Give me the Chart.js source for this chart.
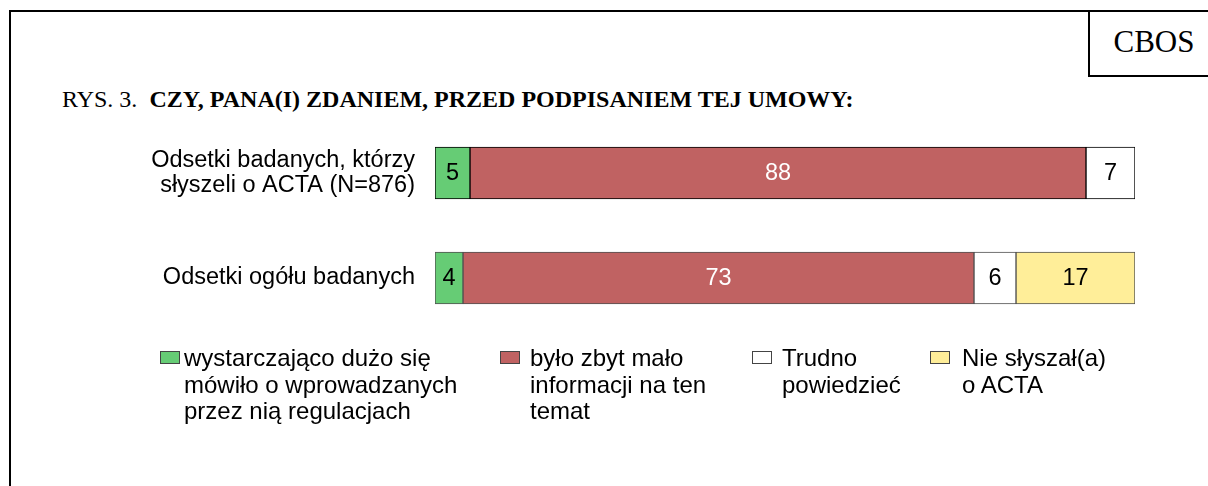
<!DOCTYPE html>
<html>
<head>
<meta charset="utf-8">
<script src="https://cdn.jsdelivr.net/npm/chart.js@4"></script>
<style>
  body { margin: 0; background: #fff; }
  #wrap { position: relative; width: 1208px; height: 486px; overflow: hidden; }
  #frame { position: absolute; left: 9px; top: 10px; width: 1300px; height: 600px; border: 2px solid #000; }
  #cbos { position: absolute; left: 1088px; top: 10px; width: 200px; height: 63px; border: 2px solid #000; }
  #cbosTxt { position: absolute; left: 1095px; width: 118px; top: 24px; text-align: center;
    font: 31px "Liberation Serif", "Times New Roman", serif; }
  #title { position: absolute; left: 62px; top: 86px; font: 24px "Liberation Serif", "Times New Roman", serif; white-space: nowrap; }
  #title b { margin-left: 6px; }
  canvas { position: absolute; left: 0; top: 0; }
  .leg { position: absolute; top: 345px; font: 24px "Liberation Sans", Arial, sans-serif; line-height: 26.5px; white-space: nowrap; }
  .sw { position: absolute; width: 18px; height: 11px; border: 1px solid #444; top: 351px; }
</style>
</head>
<body>
<div id="wrap">
  <div id="frame"></div>
  <div id="cbos"></div>
  <div id="cbosTxt">CBOS</div>
  <div id="title">RYS. 3. <b>CZY, PANA(I) ZDANIEM, PRZED PODPISANIEM TEJ UMOWY:</b></div>
  <canvas id="chart" width="1208" height="486"></canvas>
  <div id="legend"></div>
</div>
<script>
var categories = [
  ['Odsetki badanych, którzy', 'słyszeli o ACTA (N=876)'],
  'Odsetki ogółu badanych'
];
var seriesNames = [
  ['wystarczająco dużo się', 'mówiło o wprowadzanych', 'przez nią regulacjach'],
  ['było zbyt mało', 'informacji na ten', 'temat'],
  ['Trudno', 'powiedzieć'],
  ['Nie słyszał(a)', 'o ACTA']
];
var enoughInfo = [5, 4];
var tooLittle = [88, 73];
var hardToSay = [7, 6];
var notHeard = [0, 17];

var colors = ['#66cc75', '#c06262', '#ffffff', '#ffee99'];
var labelColors = ['#000', '#fff', '#000', '#000'];
var legendX = [160, 500, 752, 930];
var legendTextX = [184, 530, 782, 962];

var allData = [enoughInfo, tooLittle, hardToSay, notHeard];

var valueLabels = {
  id: 'valueLabels',
  afterDatasetsDraw: function(chart) {
    var ctx = chart.ctx;
    ctx.save();
    ctx.font = '23.5px "Liberation Sans", Arial, sans-serif';
    ctx.textAlign = 'center';
    ctx.textBaseline = 'middle';
    chart.data.datasets.forEach(function(ds, i) {
      chart.getDatasetMeta(i).data.forEach(function(bar, j) {
        var v = ds.data[j];
        if (!v) return;
        ctx.fillStyle = labelColors[i];
        ctx.fillText(String(v), (bar.x + bar.base) / 2, bar.y + 1);
      });
    });
    ctx.restore();
  }
};

var datasets = allData.map(function(d, i) {
  return {
    label: seriesNames[i].join(' '),
    data: d,
    backgroundColor: colors[i],
    borderColor: ['#000000', '#505050'],
    borderWidth: 1,
    borderSkipped: false,
    barThickness: 52
  };
});

var chart = new Chart(document.getElementById('chart'), {
  type: 'bar',
  data: { labels: categories, datasets: datasets },
  plugins: [valueLabels],
  options: {
    indexAxis: 'y',
    responsive: false,
    animation: false,
    layout: { padding: { top: 120.5, bottom: 155.5, left: 0, right: 73 } },
    plugins: { legend: { display: false }, tooltip: { enabled: false } },
    scales: {
      x: { stacked: true, min: 0, max: 100, display: false },
      y: {
        stacked: true,
        grid: { display: false, drawTicks: false },
        border: { display: false },
        ticks: {
          padding: 20,
          color: '#000',
          font: { family: '"Liberation Sans", Arial, sans-serif', size: 23.5, lineHeight: 1.07 }
        },
        afterFit: function(scale) { scale.width = 435; }
      }
    }
  }
});

// legend built from the series names
var legend = document.getElementById('legend');
seriesNames.forEach(function(lines, i) {
  var sw = document.createElement('div');
  sw.className = 'sw';
  sw.style.left = legendX[i] + 'px';
  sw.style.background = colors[i];
  legend.appendChild(sw);
  var t = document.createElement('div');
  t.className = 'leg';
  t.style.left = legendTextX[i] + 'px';
  t.innerHTML = lines.join('<br>');
  legend.appendChild(t);
});
</script>
</body>
</html>
